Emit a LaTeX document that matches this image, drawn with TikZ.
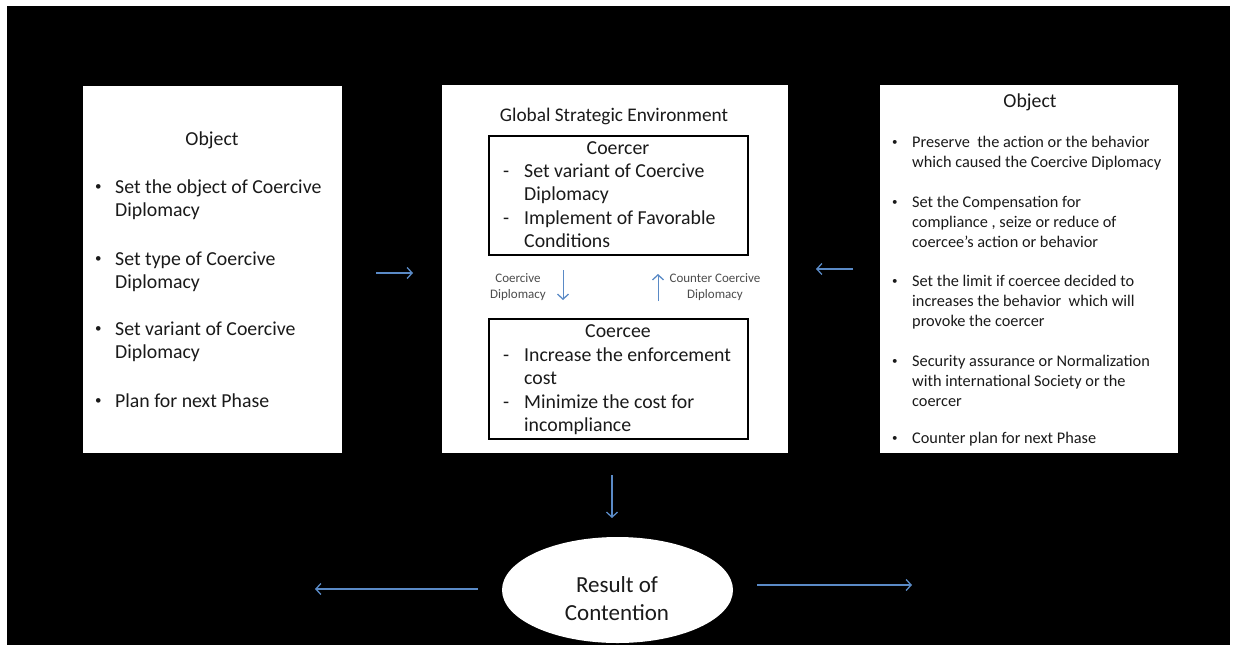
\documentclass[tikz,border=0pt]{standalone}
\usepackage{fontspec}
\setmainfont{Carlito}
\usetikzlibrary{arrows.meta,shapes.geometric}
\definecolor{arrblue}{HTML}{5A8AC6}
\definecolor{ink}{HTML}{1A1A1A}
\newcommand{\bul}{\raisebox{2.6pt}{\fontsize{13}{13}\selectfont •}}
\newcommand{\rbul}{\raisebox{2pt}{\fontsize{11}{11}\selectfont •}}
\tikzset{
  panel/.style={fill=white, draw=none, anchor=north west, inner sep=0pt},
  inbox/.style={fill=white, draw=black, line width=2pt, anchor=north west, inner sep=0pt},
  txt/.style={anchor=base west, inner sep=0pt, align=left, text=ink},
  ctxt/.style={anchor=base, inner sep=0pt, align=center, text=ink},
  bigf/.style={font=\fontsize{19.8}{23.5}\selectfont},
  smallf/.style={font=\fontsize{16.3}{19.8}\selectfont},
  tinyf/.style={font=\fontsize{13}{16}\selectfont},
  link/.style={draw=arrblue, line width=1.3pt, -{Straight Barb[length=5pt,width=11pt,line width=1.3pt]}},
}
\begin{document}
\begin{tikzpicture}[x=1pt,y=-1pt]
\fill[white] (0,0) rectangle (1236,645);
\fill[black] (7,6) rectangle (1230,645);
\useasboundingbox (0,0) rectangle (1236,645);

% left panel
\node[panel, minimum width=259pt, minimum height=367pt] (left) at (83,86) {};
\node[ctxt, bigf] (lobj) at (212,145) {Object};
\node[txt, bigf] (lb1) at (95,193) {\bul}; \node[txt, bigf] (l1) at (115,216.5) {Set the object of Coercive\\Diplomacy};
\node[txt, bigf] (lb2) at (95,265) {\bul}; \node[txt, bigf] (l2) at (115,288.5) {Set type of Coercive\\Diplomacy};
\node[txt, bigf] (lb3) at (95,335) {\bul}; \node[txt, bigf] (l3) at (115,358.5) {Set variant of Coercive\\Diplomacy};
\node[txt, bigf] (lb4) at (95,407) {\bul}; \node[txt, bigf] (l4) at (115,407) {Plan for next Phase};

% center panel
\node[panel, minimum width=346pt, minimum height=368pt] (center) at (442,85) {};
\node[ctxt, bigf, font=\fontsize{19.3}{23}\selectfont] (gse) at (614,121) {Global Strategic Environment};
\node[inbox, minimum width=259pt, minimum height=119pt] (coercer) at (488,135) {};
\node[ctxt, bigf] (cr) at (618,154) {Coercer};
\node[txt, bigf] (crd1) at (503,177) {-}; \node[txt, bigf] (cr1) at (524,200.5) {Set variant of Coercive\\Diplomacy};
\node[txt, bigf] (crd2) at (503,224) {-}; \node[txt, bigf] (cr2) at (524,247.5) {Implement of Favorable\\Conditions};
\node[inbox, minimum width=259pt, minimum height=120pt] (coercee) at (488,318) {};
\node[ctxt, bigf] (ce) at (618,337) {Coercee};
\node[txt, bigf] (ced1) at (503,361) {-}; \node[txt, bigf] (ce1) at (524,384.5) {Increase the enforcement\\cost};
\node[txt, bigf] (ced2) at (503,408) {-}; \node[txt, bigf] (ce2) at (524,431.5) {Minimize the cost for\\incompliance};
\node[ctxt, tinyf, text=black!70] (cdl) at (518,298) {Coercive\\Diplomacy};
\node[ctxt, tinyf, text=black!70] (ccdl) at (715,298) {Counter Coercive\\Diplomacy};
\coordinate (dA) at (563,270); \coordinate (dB) at (563,300);
\coordinate (uA) at (658,301); \coordinate (uB) at (658,274);
\draw[link, line width=1pt] (dA) -- (dB);
\draw[link, line width=1pt] (uA) -- (uB);

% right panel
\node[panel, minimum width=298pt, minimum height=368pt] (right) at (880,85) {};
\node[ctxt, bigf] (robj) at (1030,107) {Object};
\node[txt, smallf] (rb1) at (892,147) {\rbul}; \node[txt, smallf] (r1) at (912,167) {Preserve\ \ the action or the behavior\\which caused the Coercive Diplomacy};
\node[txt, smallf] (rb2) at (892,207) {\rbul}; \node[txt, smallf] (r2) at (912,247) {Set the Compensation for\\compliance , seize or reduce of\\coercee’s action or behavior};
\node[txt, smallf] (rb3) at (892,286) {\rbul}; \node[txt, smallf] (r3) at (912,326) {Set the limit if coercee decided to\\increases the behavior\ \ which will\\provoke the coercer};
\node[txt, smallf] (rb4) at (892,366) {\rbul}; \node[txt, smallf] (r4) at (912,406) {Security assurance or Normalization\\with international Society or the\\coercer};
\node[txt, smallf] (rb5) at (892,443) {\rbul}; \node[txt, smallf] (r5) at (912,443) {Counter plan for next Phase};

% result ellipse
\node[ellipse, fill=white, minimum width=231pt, minimum height=106pt, inner sep=0pt] (res) at (617.5,590) {};
\node[ctxt, font=\fontsize{23}{28}\selectfont] (rest) at (617,620) {Result of\\Contention};

% connectors
\coordinate (la) at (376,273); \coordinate (lb) at (413,273);
\draw[link] (la) -- (lb);
\coordinate (ra) at (853,269); \coordinate (rb) at (816,269);
\draw[link] (ra) -- (rb);
\coordinate (da) at (612,475); \coordinate (db) at (612,518);
\draw[link] (da) -- (db);
\coordinate (ea) at (478,589); \coordinate (eb) at (315,589);
\draw[link] (ea) -- (eb);
\coordinate (fa) at (757,585); \coordinate (fb) at (912,585);
\draw[link] (fa) -- (fb);
\end{tikzpicture}
\end{document}
